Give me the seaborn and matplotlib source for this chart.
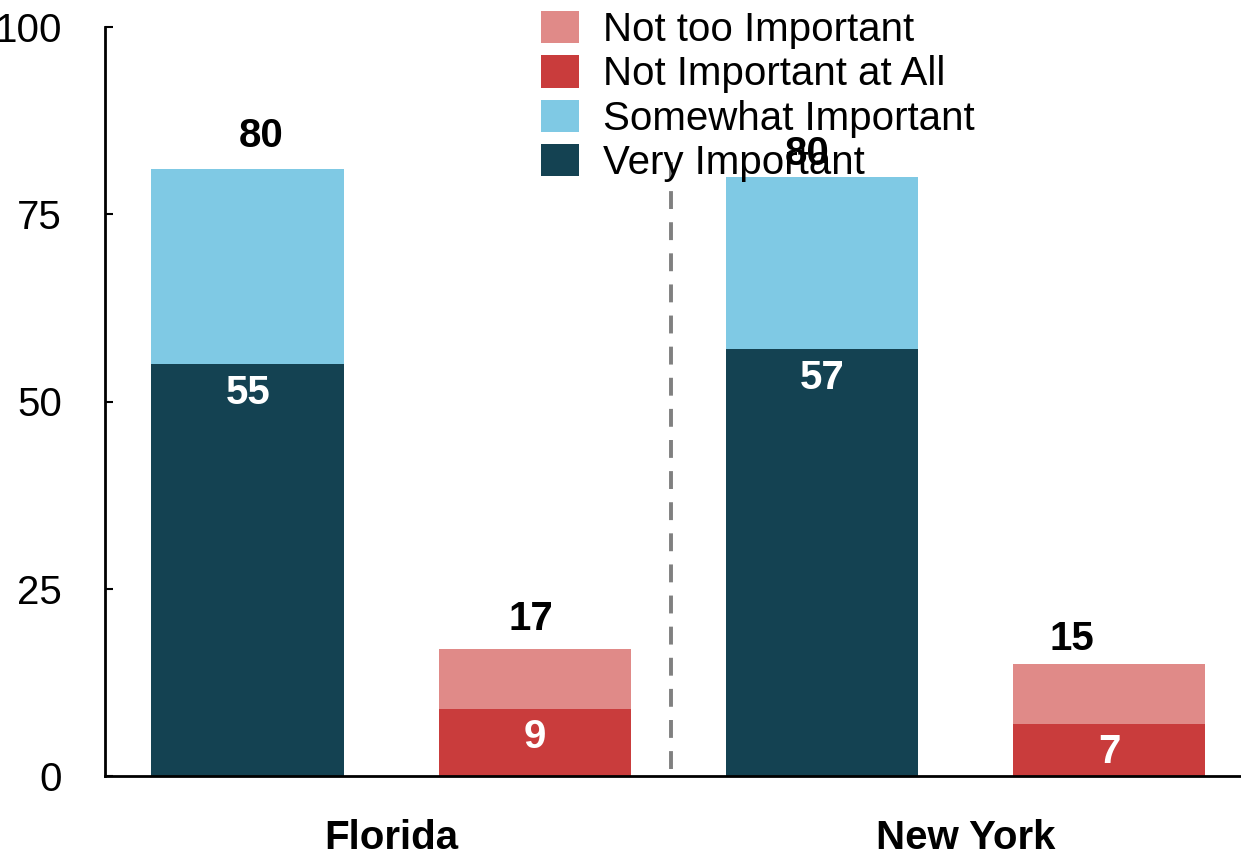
"""Stacked bars: importance ratings for Florida and New York."""
import matplotlib

matplotlib.use("Agg")
import matplotlib.pyplot as plt
import pandas as pd
import seaborn as sns
from matplotlib.patches import Patch

# --- data -------------------------------------------------------------------
bars = ["FL important", "FL not important", "NY important", "NY not important"]
bottom_values = [55, 9, 57, 7]        # Very Important / Not Important at All
top_values = [26, 8, 23, 8]           # Somewhat Important / Not too Important
total_labels = ["80", "17", "80", "15"]
states = ["Florida", "New York"]

legend_labels = ["Not too Important", "Not Important at All",
                 "Somewhat Important", "Very Important"]
legend_colors = ["#E08A88", "#C93C3C", "#7FC9E4", "#144252"]
bottom_colors = ["#144252", "#C93C3C", "#144252", "#C93C3C"]
top_colors = ["#7FC9E4", "#E08A88", "#7FC9E4", "#E08A88"]

# small hand nudges of the total labels (x, y in data units)
total_nudge = [(0.045, 4.4), (-0.014, 4.0), (-0.052, 3.1), (-0.13, 3.3)]

df = pd.DataFrame({
    "bar": bars,
    "bottom": bottom_values,
    "total": [b + t for b, t in zip(bottom_values, top_values)],
})

sns.set_theme(style="white")
plt.rcParams["font.family"] = ["Liberation Sans", "DejaVu Sans"]
plt.rcParams["text.color"] = "black"
plt.rcParams["xtick.color"] = "black"
plt.rcParams["ytick.color"] = "black"

fig = plt.figure(figsize=(12.41, 8.56), dpi=100)
ax = fig.add_axes([105 / 1241, 80 / 856, 1136 / 1241, 749 / 856])

width = 0.672
sns.barplot(data=df, x="bar", y="total", hue="bar", palette=top_colors,
            legend=False, width=width, saturation=1, ax=ax)
sns.barplot(data=df, x="bar", y="bottom", hue="bar", palette=bottom_colors,
            legend=False, width=width, saturation=1, ax=ax)
for p in ax.patches:
    p.set_edgecolor("none")

# value labels
for i, row in df.iterrows():
    ax.text(i, row["bottom"] - 3.8, str(row["bottom"]), ha="center", va="center",
            color="white", fontsize=29, fontweight="bold")
    dx, dy = total_nudge[i]
    ax.text(i + dx, row["total"] + dy, total_labels[i], ha="center", va="center",
            color="black", fontsize=29, fontweight="bold")

# divider between states
ax.vlines(1.475, 1, 82, colors="#808080", linewidth=2.8, linestyles=(0, (4.6, 3.4)),
          zorder=1)

ax.set_ylim(0, 100)
ax.set_xlim(-0.498, 3.46)
ax.set_yticks([0, 25, 50, 75, 100])
ax.tick_params(axis="y", direction="in", length=6, width=1.5, pad=31,
               labelsize=29, left=True, colors="black")
ax.set_xticks([0.5, 2.5])
ax.set_xticklabels(states, fontsize=29, fontweight="bold")
ax.tick_params(axis="x", length=0, pad=31, colors="black")
ax.set_xlabel("")
ax.set_ylabel("")

sns.despine(ax=ax, top=True, right=True)
for side in ("left", "bottom"):
    ax.spines[side].set_linewidth(2)
    ax.spines[side].set_color("black")

handles = [Patch(facecolor=c, edgecolor="none") for c in legend_colors]
leg = fig.legend(handles, legend_labels, loc="upper left",
                 bbox_to_anchor=(541 / 1241, 1 - 11 / 856), frameon=False,
                 fontsize=29, borderpad=0, borderaxespad=0, handlelength=0.95,
                 handleheight=0.85, handletextpad=0.6, labelspacing=0.16)
for t in leg.get_texts():
    t.set_color("black")

fig.savefig("out.png", dpi=100)
